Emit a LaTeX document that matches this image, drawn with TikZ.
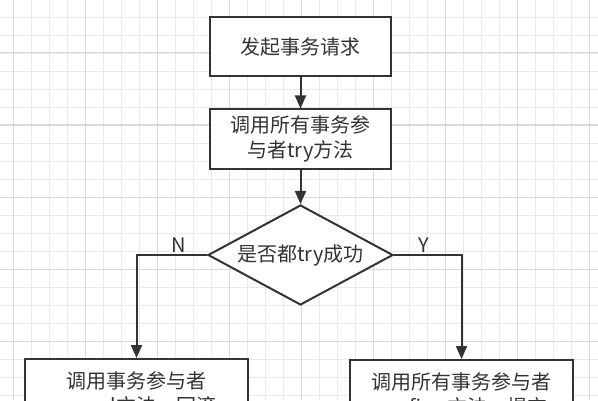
\documentclass[tikz,border=0pt]{standalone}
\usepackage{fontspec}
\setmainfont{Noto Sans CJK SC}
\usepackage{xcolor}
\definecolor{LineDark}{HTML}{333333}
\definecolor{GridMinor}{HTML}{E9E9E9}
\definecolor{GridMajor}{HTML}{DADADA}
\usepackage{tikz}
\usetikzlibrary{positioning,arrows.meta,shapes.geometric}

\begin{document}
\begin{tikzpicture}[
    x=1pt, y=1pt,
    box/.style={
        draw=LineDark,
        line width=2pt,
        fill=white,
        minimum width=181pt,
        minimum height=59pt,
        align=center,
        text=LineDark,
        font=\fontsize{20}{25}\selectfont
    },
    widebox/.style={
        box,
        minimum width=223pt,
        minimum height=70pt
    },
    decision/.style={
        draw=LineDark,
        line width=2pt,
        fill=white,
        diamond,
        aspect=1.85,
        inner sep=0pt,
        minimum width=185pt,
        minimum height=100pt,
        text=LineDark,
        font=\fontsize{20}{25}\selectfont
    },
    arr/.style={-{Triangle[length=13pt,width=11pt]},line width=2pt,draw=LineDark},
    yn/.style={
        font=\fontsize{20}{22}\selectfont,
        text=LineDark,
        inner sep=2pt
    },
    gridminor/.style={draw=GridMinor,line width=0.9pt},
    gridmajor/.style={draw=GridMajor,line width=1pt}
]

\useasboundingbox (0,0) rectangle (598,400);
\fill[white] (0,0) rectangle (598,400);

% ---------------------------------------------------------
% Griglia di sfondo
% ---------------------------------------------------------

\foreach \gx in {13,31,...,589}
    \draw[gridminor] (\gx,0) -- (\gx,400);
\foreach \gy in {5,23,...,383}
    \draw[gridminor] (0,\gy) -- (598,\gy);
\foreach \gx in {13,85,...,589}
    \draw[gridmajor] (\gx,0) -- (\gx,400);
\foreach \gy in {59,131,...,347}
    \draw[gridmajor] (0,\gy) -- (598,\gy);

% ---------------------------------------------------------
% Blocchi del flusso
% ---------------------------------------------------------

\node[box] (start) at (300.5,353.5)
{发起事务请求};

\node[box] (trycall) at (300.5,261)
{调用所有事务参\\与者try方法};

\node[decision] (check) at (300.5,145)
{是否都try成功};

\node[widebox] (cancel) at (136.5,6)
{调用事务参与者\\cancel方法，回滚};

\node[widebox] (confirm) at (461.5,5)
{调用所有事务参与者\\confirm方法，提交};

% ---------------------------------------------------------
% Collegamenti
% ---------------------------------------------------------

\draw[arr] (start) -- (trycall);

\draw[arr] (trycall) -- (check);

\draw[arr]
(check.west) -|
node[yn,above,pos=0.2]{N}
(cancel.north);

\draw[arr]
(check.east) -|
node[yn,above,pos=0.22]{Y}
(confirm.north);

\end{tikzpicture}
\end{document}
